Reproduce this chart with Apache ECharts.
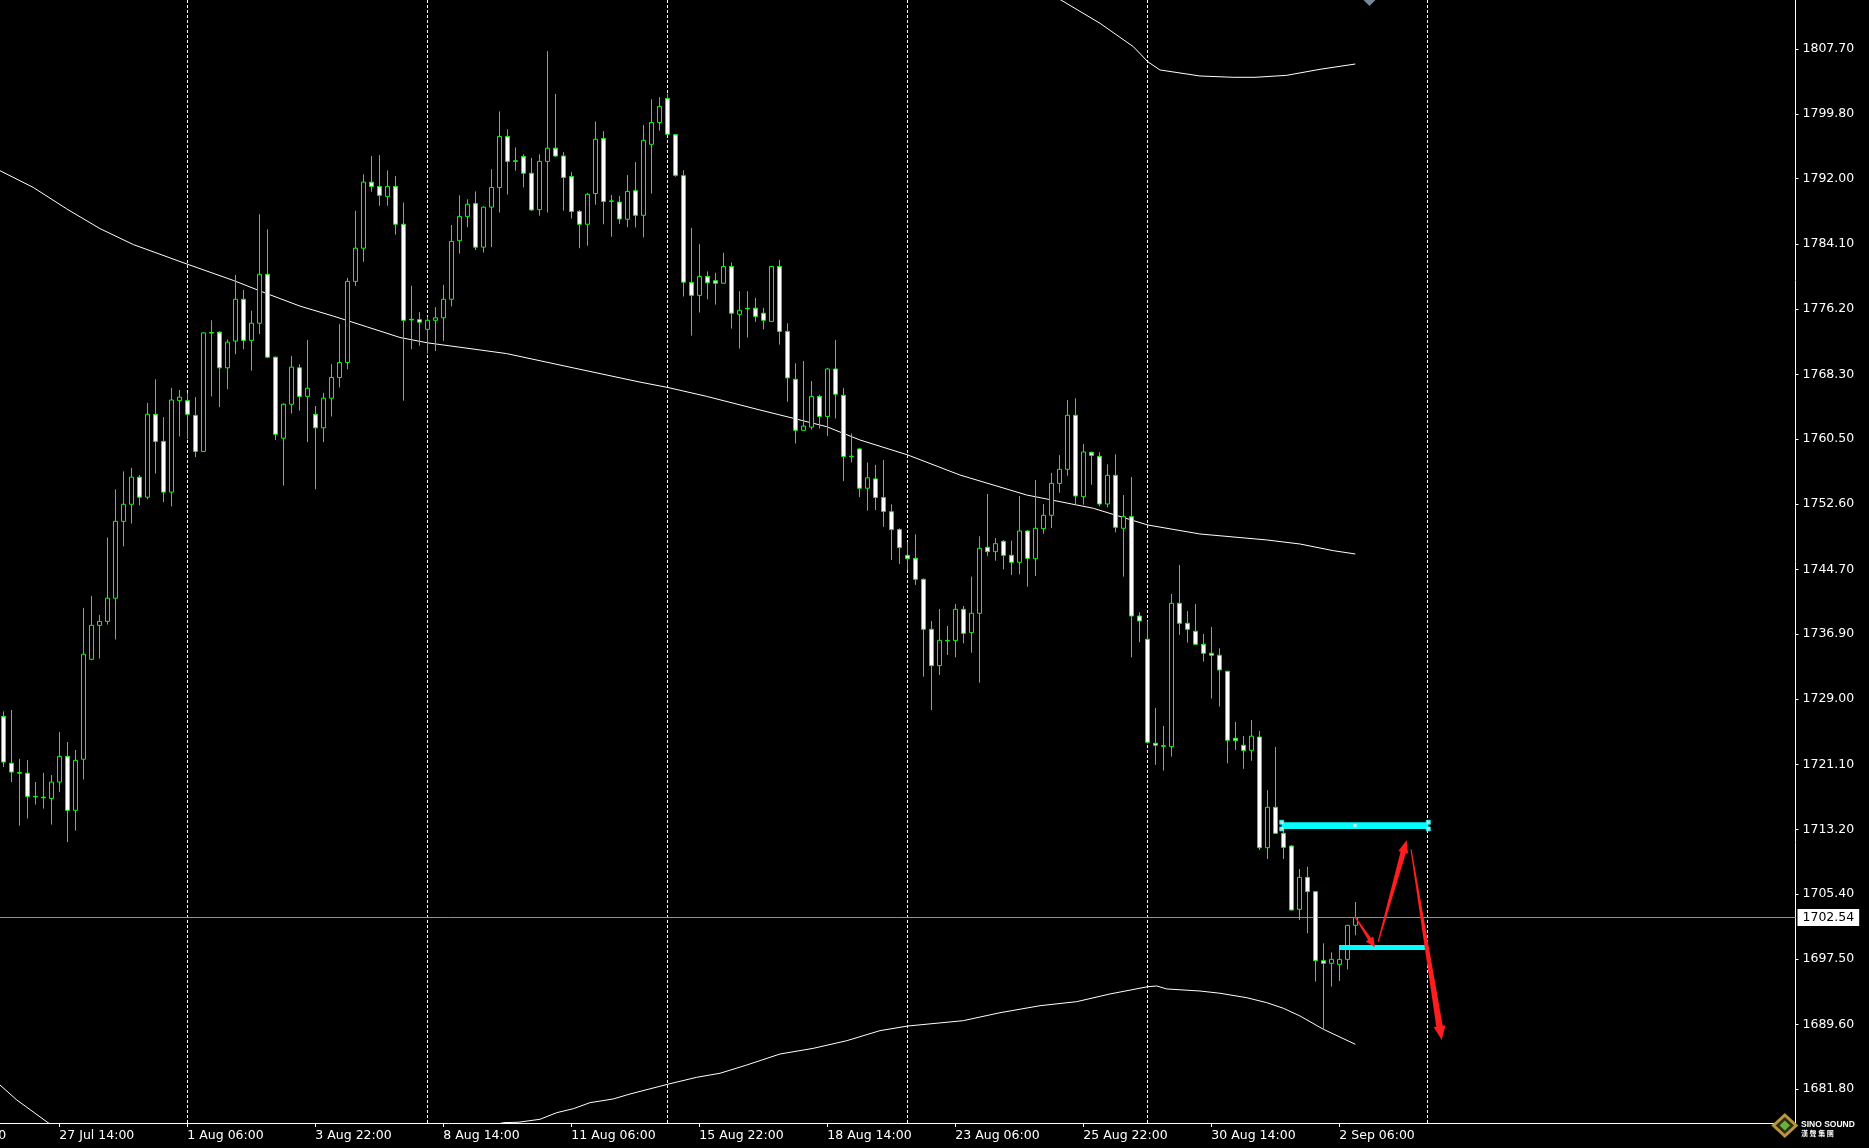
<!DOCTYPE html>
<html><head><meta charset="utf-8">
<script src="https://cdn.jsdelivr.net/npm/echarts/dist/echarts.min.js"></script>
<style>html,body{margin:0;padding:0;background:#000;overflow:hidden}#c{width:1869px;height:1148px;}</style>
</head><body><div id="c"></div>
<script>
// ---- DATA ----
const opens = [1726.90,1721.23,1720.10,1720.02,1717.21,1717.12,1716.95,1718.95,1722.06,1715.52,
1721.71,1733.81,1737.92,1738.40,1741.21,1750.51,1752.58,1755.86,1753.44,1763.47,
1760.19,1754.05,1765.12,1765.12,1763.34,1758.98,1773.36,1773.42,1769.10,1772.34,
1777.40,1772.42,1774.50,1780.42,1770.39,1760.58,1764.69,1769.10,1765.64,1763.47,
1761.83,1765.42,1767.93,1769.74,1779.56,1783.58,1791.58,1791.06,1789.85,1791.06,
1786.48,1774.97,1774.93,1773.76,1774.85,1775.15,1777.40,1784.49,1787.43,1788.98,
1783.71,1788.55,1790.93,1797.11,1794.16,1794.69,1792.66,1788.25,1794.09,1795.69,
1794.74,1792.27,1788.03,1786.48,1790.20,1796.85,1789.31,1789.16,1787.08,1790.54,
1787.56,1796.16,1798.80,1801.70,1797.33,1792.36,1779.43,1777.87,1780.16,1779.65,
1779.34,1781.37,1775.58,1776.30,1776.32,1775.71,1774.72,1781.37,1773.51,1767.71,
1761.53,1761.92,1765.64,1763.21,1768.96,1765.77,1758.40,1759.28,1754.52,1755.65,
1753.40,1751.68,1749.51,1746.40,1746.03,1743.49,1737.44,1733.04,1736.10,1736.07,
1739.86,1737.04,1739.38,1747.37,1746.84,1748.09,1746.40,1745.55,1749.34,1745.99,
1749.63,1751.24,1755.11,1756.81,1763.35,1753.50,1758.87,1758.38,1752.61,1756.08,
1749.67,1751.08,1739.05,1736.23,1723.64,1723.35,1723.24,1740.59,1738.17,1737.20,
1735.63,1734.54,1734.30,1732.36,1724.25,1723.40,1722.79,1724.40,1711.00,1715.89,
1712.74,1711.20,1703.54,1707.41,1705.68,1697.32,1697.00,1696.88,1697.48,1701.60];
const closes = [1721.37,1720.16,1720.02,1717.21,1717.16,1717.04,1718.95,1722.06,1715.52,1721.57,
1734.42,1737.92,1738.40,1741.21,1750.51,1752.58,1755.86,1753.44,1763.47,1760.19,
1754.05,1765.20,1765.55,1763.47,1758.98,1773.33,1773.30,1769.10,1772.21,1777.40,
1772.42,1774.50,1780.42,1770.39,1761.05,1764.69,1769.18,1765.64,1766.63,1761.83,
1765.42,1767.93,1769.74,1779.56,1783.58,1791.58,1791.06,1789.98,1791.06,1786.48,
1774.85,1774.90,1774.63,1774.85,1775.15,1777.40,1784.40,1787.43,1788.90,1783.71,
1788.55,1790.93,1797.11,1794.09,1794.10,1792.66,1788.21,1794.09,1795.69,1794.74,
1792.14,1788.03,1786.48,1790.11,1796.77,1789.24,1789.25,1787.12,1790.45,1787.56,
1796.64,1798.80,1800.75,1797.37,1792.40,1779.47,1777.87,1780.16,1779.39,1779.34,
1781.37,1775.71,1776.06,1776.24,1775.32,1774.85,1781.37,1773.51,1767.88,1761.53,
1762.05,1765.64,1763.21,1768.96,1765.90,1758.37,1758.34,1754.52,1755.78,1753.40,
1751.71,1749.51,1747.33,1745.99,1743.49,1737.44,1733.04,1736.11,1736.04,1739.86,
1736.95,1739.38,1747.25,1746.84,1747.81,1746.40,1745.55,1749.34,1746.03,1749.67,
1751.24,1755.11,1756.81,1763.35,1753.58,1758.91,1758.50,1752.61,1756.08,1749.79,
1751.08,1739.05,1738.45,1723.76,1723.40,1723.29,1740.59,1738.17,1737.44,1735.63,
1734.54,1734.30,1732.52,1724.00,1723.96,1722.78,1724.50,1711.00,1715.89,1712.74,
1711.04,1703.46,1707.41,1705.68,1697.32,1697.00,1697.48,1697.48,1701.60,1702.54];
const lows = [1720.76,1718.95,1713.67,1714.53,1716.22,1715.74,1713.80,1717.73,1711.68,1713.06,
1719.25,1733.70,1733.90,1738.01,1736.20,1747.48,1750.24,1752.45,1753.18,1756.30,
1752.84,1752.32,1760.79,1760.45,1758.29,1758.90,1765.64,1764.34,1766.50,1770.74,
1771.34,1768.75,1773.20,1770.26,1760.36,1754.83,1763.56,1763.91,1760.10,1754.39,
1760.10,1763.21,1766.72,1768.92,1779.00,1781.94,1790.41,1788.72,1788.72,1785.22,
1765.12,1771.34,1771.78,1770.82,1771.13,1772.34,1776.53,1782.93,1786.13,1783.36,
1783.06,1783.71,1787.90,1790.07,1792.96,1790.93,1788.12,1787.52,1787.90,1794.61,
1788.12,1787.17,1783.58,1783.88,1788.85,1786.48,1784.96,1786.52,1786.13,1786.09,
1784.88,1790.20,1797.80,1797.30,1792.23,1777.74,1772.99,1775.80,1777.40,1776.75,
1779.30,1773.85,1771.43,1772.77,1774.67,1773.76,1774.70,1771.91,1764.99,1759.93,
1761.50,1761.62,1761.75,1760.84,1762.96,1755.39,1757.64,1753.44,1751.80,1751.89,
1749.85,1745.83,1745.35,1744.62,1742.81,1731.71,1727.67,1731.91,1734.33,1734.05,
1735.74,1734.61,1730.98,1746.32,1745.75,1744.70,1744.02,1744.10,1742.60,1743.90,
1749.02,1749.71,1753.98,1756.04,1752.53,1752.53,1754.95,1752.33,1752.21,1749.18,
1743.82,1734.05,1735.87,1723.60,1721.02,1720.33,1722.03,1736.76,1735.83,1735.60,
1733.53,1729.05,1728.08,1721.22,1722.84,1720.55,1721.52,1710.72,1709.63,1712.70,
1709.63,1703.38,1702.25,1700.63,1694.78,1688.93,1694.18,1694.86,1696.27,1700.39];
const highs = [1727.50,1727.67,1721.76,1721.62,1718.95,1720.06,1719.80,1725.00,1723.79,1722.83,
1740.04,1741.46,1739.18,1748.56,1754.39,1756.56,1756.99,1756.12,1764.86,1767.71,
1763.13,1766.67,1766.41,1766.07,1765.55,1773.40,1774.85,1773.50,1772.55,1780.34,
1778.52,1776.01,1787.69,1785.87,1770.45,1764.80,1770.52,1769.53,1772.47,1764.47,
1766.07,1769.53,1774.37,1779.99,1788.12,1792.53,1794.74,1794.86,1793.01,1792.31,
1789.11,1779.04,1775.84,1775.28,1776.45,1779.13,1786.39,1789.98,1789.50,1790.45,
1788.64,1793.14,1800.14,1797.98,1795.77,1794.95,1794.52,1794.95,1807.45,1802.26,
1795.21,1792.79,1788.21,1790.28,1798.93,1797.76,1790.02,1789.89,1792.44,1794.00,
1798.50,1801.61,1801.87,1802.30,1797.40,1793.01,1786.04,1784.06,1780.77,1780.60,
1783.02,1781.85,1778.39,1778.39,1777.57,1776.36,1781.40,1782.15,1774.50,1769.66,
1769.92,1767.50,1765.85,1769.10,1772.47,1766.63,1761.14,1759.41,1757.64,1757.34,
1757.94,1752.57,1749.67,1747.97,1748.94,1743.61,1738.45,1739.90,1737.84,1740.51,
1740.26,1743.82,1748.70,1753.82,1748.50,1748.25,1748.17,1753.58,1749.46,1755.52,
1752.61,1756.37,1758.54,1765.20,1765.41,1759.88,1758.95,1758.87,1757.41,1758.63,
1753.70,1755.88,1739.50,1738.45,1727.92,1725.74,1741.72,1745.23,1739.66,1740.51,
1736.88,1737.73,1735.14,1732.40,1726.23,1724.53,1726.47,1725.15,1717.96,1723.20,
1713.40,1711.29,1708.42,1708.70,1705.70,1699.42,1698.33,1699.22,1701.65,1704.42];

// time axis tick labels (bar index -> label); index -9 lies just left of the visible area
const timeTickIndex = [-9, 7, 23, 39, 55, 71, 87, 103, 119, 135, 151, 167];
const timeTickLabels = ['22 Jul 22:00','27 Jul 14:00','1 Aug 06:00','3 Aug 22:00','8 Aug 14:00','11 Aug 06:00',
  '15 Aug 22:00','18 Aug 14:00','23 Aug 06:00','25 Aug 22:00','30 Aug 14:00','2 Sep 06:00'];
// price axis tick labels
const priceTicks = [1807.70,1799.80,1792.00,1784.10,1776.20,1768.30,1760.50,1752.60,1744.70,
  1736.90,1729.00,1721.10,1713.20,1705.40,1697.50,1689.60,1681.80];
const weekSeparators = [23, 53, 83, 113, 143, 178];
const lastPrice = 1702.54;

// moving average & envelope bands [bar index, price]
const maMiddle = [[-1,1793.25],[3.75,1790.93],[7.92,1788.34],[12.08,1785.95],[16.25,1784.02],[23.05,1781.63],
 [28.75,1779.68],[32.92,1778.09],[37.08,1776.57],[41.25,1775.36],[45.42,1774.07],[49.58,1772.77],[53.05,1772.12],
 [59.58,1771.26],[62.92,1770.82],[71.25,1769.09],[79.58,1767.37],[83.05,1766.72],[87.92,1765.64],[94.58,1763.99],
 [98.75,1762.99],[102.92,1761.97],[107.08,1760.36],[113.05,1758.55],[119.58,1756.12],[127.92,1753.70],[136.25,1752.09],
 [143.05,1750.07],[149.58,1748.98],[157.92,1748.26],[162.08,1747.77],[166.25,1746.96],[169,1746.56]];
const bandUpper = [[128,1816.0],[132.2,1813.63],[137.08,1810.81],[141.25,1807.98],[143.05,1806.16],[144.58,1805.16],
 [149.58,1804.43],[153.75,1804.27],[156.46,1804.27],[160.42,1804.51],[164.58,1805.24],[169,1805.88]];
const bandLower = [[-1,1682.77],[1.68,1680.46],[5.58,1677.71],[10,1674.8],[20,1671.0],[35,1669.5],[50,1672.5],
 [58,1676.6],[62.5,1677.71],[64.37,1677.76],[67.08,1678.12],[69.17,1678.92],[71.25,1679.40],[73.33,1680.13],
 [76.25,1680.58],[78.33,1681.18],[83.05,1682.36],[86.67,1683.20],[89.58,1683.69],[92.92,1684.69],[97.08,1686.02],
 [101.25,1686.71],[105.42,1687.63],[109.58,1688.85],[113.05,1689.41],[120,1690.06],[124.58,1691.02],[129.58,1691.87],
 [134.17,1692.36],[138.33,1693.29],[143.05,1694.17],[144.17,1694.26],[145.42,1693.90],[149.58,1693.65],[152.08,1693.38],
 [155.42,1692.84],[157.92,1692.24],[160,1691.56],[162.08,1690.63],[165,1689.02],[169,1687.20]];

// drawn objects: zones [x1, x2, priceTop, priceBottom], arrows [x1, y1, x2, y2]
const levelZones = [[159.8, 178.12, 1714.08, 1713.27],[167.0, 177.7, 1699.22, 1698.62]];
const arrows = [[168.96,1702.65,171.46,1698.94],[171.87,1699.62,175.42,1711.94],[175.96,1710.81,179.8,1687.72]];

// ---- CHART ----
const FONT = 'DejaVu Sans';
const X_MIN = -0.4167, X_MAX = 224.02;
const candleData = opens.map((o, i) => [i, o, closes[i], lows[i], highs[i]]);
const labelMap = {};
timeTickIndex.forEach((v, i) => { labelMap[String(v)] = timeTickLabels[i]; });
const visibleTicks = timeTickIndex.filter(v => v >= X_MIN && v <= X_MAX);
const hiddenTicks = timeTickIndex.filter(v => v < X_MIN);
const arrowSizes = [[1, 3.5, 10, 9], [1.2, 5.5, 13, 10], [1.2, 6.5, 14, 12]];
const z0 = levelZones[0];
const zoneMarkers = [[z0[0], z0[2]], [z0[0], z0[3]], [z0[1], z0[2]], [z0[1], z0[3]]];

const chart = echarts.init(document.getElementById('c'), null, {renderer: 'canvas'});
const baseGraphic = [
  {type: 'polygon', shape: {points: [[1363.5, 0], [1375.5, 0], [1369.5, 6]]}, style: {fill: '#778899'}, z: 10},
  {type: 'polygon', shape: {points: [[1784.8, 1113], [1798.3, 1125.5], [1784.8, 1138], [1771.3, 1125.5]]},
    style: {fill: '#b8943a'}, z: 10},
  {type: 'polygon', shape: {points: [[1784.8, 1117], [1794, 1125.5], [1784.8, 1134], [1775.6, 1125.5]]},
    style: {fill: '#2d2d14'}, z: 10},
  {type: 'polygon', shape: {points: [[1784.8, 1120.5], [1790, 1125.5], [1784.8, 1130.5], [1779.6, 1125.5]]},
    style: {fill: '#6bb03a'}, z: 10},
  {type: 'text', x: 1801, y: 1120, z: 10,
    style: {text: 'SINO SOUND', fill: '#fff', font: 'bold 8.5px "Liberation Sans"'}},
  {type: 'text', x: 1801, y: 1130, z: 10,
    style: {text: '漢 聲 集 團', fill: '#fff', font: 'bold 7px "Noto Sans CJK TC"'}}
];
chart.setOption({
  backgroundColor: '#000',
  animation: false,
  textStyle: {fontFamily: FONT},
  grid: {left: 0, right: 73.5, top: 0, bottom: 25, containLabel: false},
  xAxis: {
    type: 'value', min: X_MIN, max: X_MAX,
    axisLine: {show: true, onZero: false, lineStyle: {color: '#fff', width: 1}},
    axisTick: {show: true, length: 4, lineStyle: {color: '#fff'}, customValues: visibleTicks},
    axisLabel: {show: true, color: '#fff', fontFamily: FONT, fontSize: 12.5, align: 'left', margin: 6,
      customValues: visibleTicks, formatter: v => labelMap[String(v)] || ''},
    splitLine: {show: false}
  },
  yAxis: {
    type: 'value', position: 'right', min: 1677.67, max: 1813.63,
    axisLine: {show: true, onZero: false, lineStyle: {color: '#fff', width: 1}},
    axisTick: {show: true, length: 3, lineStyle: {color: '#fff'}, customValues: priceTicks},
    axisLabel: {show: true, color: '#fff', fontFamily: FONT, fontSize: 12.5, margin: 7,
      customValues: priceTicks, formatter: v => Number(v).toFixed(2)},
    splitLine: {show: false}
  },
  series: [
    {
      type: 'line', name: 'ref', data: [[0, lastPrice]], showSymbol: false, symbol: 'none',
      lineStyle: {opacity: 0}, clip: false, z: 1, silent: true,
      markLine: {
        silent: true, symbol: 'none', z: 1, animation: false,
        data: weekSeparators.map(x => ({xAxis: x, lineStyle: {color: '#fff', width: 1, type: [3, 2]}, label: {show: false}}))
          .concat([{yAxis: lastPrice, lineStyle: {color: '#8494a8', width: 1, type: 'solid'},
            label: {show: true, position: 'end', distance: 2, formatter: lastPrice.toFixed(2), color: '#000',
              backgroundColor: '#fff', fontFamily: FONT, fontSize: 12.5, padding: [2, 5, 2, 5]}}])
      }
    },
    {type: 'line', name: 'MA', data: maMiddle, symbol: 'none', lineStyle: {color: '#fff', width: 1}, z: 2, silent: true},
    {type: 'line', name: 'Upper', data: bandUpper, symbol: 'none', lineStyle: {color: '#fff', width: 1}, z: 2, silent: true},
    {type: 'line', name: 'Lower', data: bandLower, symbol: 'none', lineStyle: {color: '#fff', width: 1}, z: 2, silent: true},
    {
      type: 'candlestick', name: 'XAUUSD,H4', data: candleData, encode: {x: 0, y: [1, 2, 3, 4]},
      barWidth: 4, z: 3,
      itemStyle: {color: '#000', color0: '#fff', borderColor: '#00ff00', borderColor0: '#00ff00',
        borderColorDoji: '#00ff00', borderWidth: 1}
    },
    {
      type: 'custom', name: 'zones', data: levelZones, encode: {x: [0, 1], y: [2, 3]}, z: 5, silent: true,
      renderItem: (params, api) => {
        const p1 = api.coord([api.value(0), api.value(2)]);
        const p2 = api.coord([api.value(1), api.value(3)]);
        return {type: 'rect', shape: {x: p1[0], y: p1[1], width: p2[0] - p1[0], height: p2[1] - p1[1]},
          style: {fill: '#00ffff'}};
      }
    },
    {
      type: 'scatter', name: 'zoneHandles', data: zoneMarkers, symbol: 'rect', symbolSize: 4, z: 6, silent: true,
      itemStyle: {color: '#fff', borderColor: '#00ffff', borderWidth: 1}
    },
    {
      type: 'scatter', name: 'zoneMid', data: [[(z0[0] + z0[1]) / 2, (z0[2] + z0[3]) / 2]], symbol: 'rect',
      symbolSize: 3, z: 6, silent: true, itemStyle: {color: '#fff'}
    },
    {
      type: 'custom', name: 'arrows', data: arrows, encode: {x: [0, 2], y: [1, 3]}, z: 7, silent: true, clip: false,
      renderItem: (params, api) => {
        const a = api.coord([api.value(0), api.value(1)]);
        const b = api.coord([api.value(2), api.value(3)]);
        const [w0, w1, hl, hw] = arrowSizes[params.dataIndex];
        const dx = b[0] - a[0], dy = b[1] - a[1], L = Math.hypot(dx, dy);
        const ux = dx / L, uy = dy / L, nx = -uy, ny = ux;
        const bx = b[0] - ux * hl, by = b[1] - uy * hl;
        const pts = [
          [a[0] + nx * w0 / 2, a[1] + ny * w0 / 2], [bx + nx * w1 / 2, by + ny * w1 / 2],
          [bx + nx * hw / 2, by + ny * hw / 2], [b[0], b[1]], [bx - nx * hw / 2, by - ny * hw / 2],
          [bx - nx * w1 / 2, by - ny * w1 / 2], [a[0] - nx * w0 / 2, a[1] - ny * w0 / 2]];
        return {type: 'polygon', shape: {points: pts}, style: {fill: '#ff1e1e'}};
      }
    }
  ],
  graphic: baseGraphic
});
// time labels whose tick lies left of the plotted range: drawn at their axis position (clipped by the canvas edge)
const axisY = chart.convertToPixel({yAxisIndex: 0}, 1677.67);
const extraLabels = hiddenTicks.map(v => ({
  type: 'text', z: 10,
  x: chart.convertToPixel({xAxisIndex: 0}, v), y: axisY + 6,
  style: {text: labelMap[String(v)], fill: '#fff', font: '12.5px "' + FONT + '"', textAlign: 'left', textVerticalAlign: 'top'}
}));
chart.setOption({graphic: baseGraphic.concat(extraLabels)});
</script>
</body></html>
